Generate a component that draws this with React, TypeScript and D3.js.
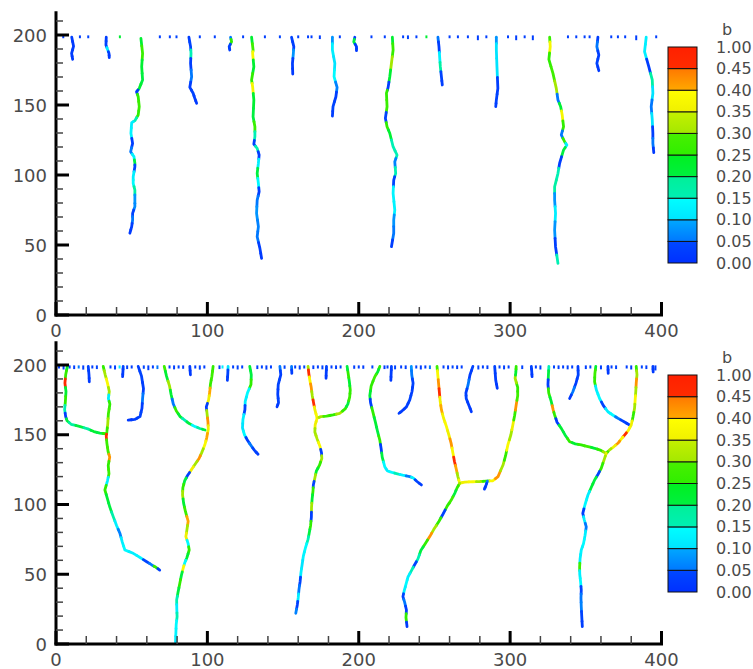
import React from 'react';
import * as d3 from 'd3';

type P = [number, number, number]; // [x, y, b]

// ---------- axis / legend data ----------
const xMajor = [0, 100, 200, 300, 400];
const xMinor = [20, 40, 60, 80, 120, 140, 160, 180, 220, 240, 260, 280, 320, 340, 360, 380];
const yMajor = [0, 50, 100, 150, 200];
const yMinor = [10, 20, 30, 40, 60, 70, 80, 90, 110, 120, 130, 140, 160, 170, 180, 190, 210];
const levelValues = [0, 0.05, 0.1, 0.15, 0.2, 0.25, 0.3, 0.35, 0.4, 0.45, 1.0];
const levelLabels = ['0.00', '0.05', '0.10', '0.15', '0.20', '0.25', '0.30', '0.35', '0.40', '0.45', '1.00'];
const bandColors: [string, string][] = [
  ['#0030ff', '#0048ff'],
  ['#0078ff', '#00a8ff'],
  ['#00e4ff', '#00ffff'],
  ['#00f0b4', '#00f098'],
  ['#00f040', '#00f020'],
  ['#30ee00', '#48f000'],
  ['#a4e800', '#c4f000'],
  ['#f0f000', '#ffff00'],
  ['#ffa800', '#ff7800'],
  ['#ff2c00', '#ff2000'],
];

// ---------- top panel: surface dots [x, depth, b] ----------
const topDots: P[] = [
  [4.8, 0.6, 0.03], [15.8, 0.6, 0.03], [21.3, 0.6, 0.04], [42.2, 0.6, 0.22], [68.6, 0.6, 0.03],
  [75.2, 0.6, 0.03], [79.6, 0.6, 0.04], [95, 0.6, 0.03], [104.9, 0.6, 0.03], [123.6, 0.6, 0.03],
  [138, 0.6, 0.03], [147.9, 0.6, 0.04], [160, 0.6, 0.03], [166.5, 0.6, 0.03], [168.8, 0.6, 0.03],
  [174.3, 1.2, 0.03], [187.5, 0.6, 0.03], [208.4, 0.6, 0.03], [217.2, 0.6, 0.03], [229.3, 0.6, 0.03],
  [232.5, 1.2, 0.04], [238.1, 0.6, 0.03], [244.7, 0.6, 0.22], [260, 0.6, 0.03], [265.5, 0.6, 0.03],
  [272.1, 0.6, 0.03], [278.7, 2.0, 0.03], [284.3, 0.6, 0.03], [298.6, 0.6, 0.03], [304, 2.0, 0.03],
  [309.6, 0.6, 0.03], [315, 2.0, 0.03], [338.2, 0.6, 0.03], [343.7, 0.6, 0.03], [349.2, 0.6, 0.03],
  [352.5, 0.6, 0.03], [366.8, 0.6, 0.03], [371.2, 0.6, 0.03], [376, 0.6, 0.03], [383.3, 2.0, 0.03],
  [396.5, 0.6, 0.03],
];

// ---------- top panel cracks ----------
const t1: P[] = [[10.4, 198.4, 0.03], [11.6, 192, 0.02], [10.3, 186.9, 0.03], [11, 182.6, 0.02]];
const t2: P[] = [[33.2, 198.4, 0.03], [33, 192.9, 0.04], [34.2, 189.3, 0.12], [35, 186.9, 0.03], [35.2, 183.8, 0.02]];
const t3: P[] = [
  [56.1, 197.6, 0.22], [57.2, 186.9, 0.27], [56.6, 177.4, 0.22], [57.2, 167.9, 0.2], [55, 161.9, 0.22],
  [53.2, 159.5, 0.02], [54.3, 155.9, 0.25], [55, 148.8, 0.27], [54.3, 142.9, 0.25], [52.1, 138.8, 0.15],
  [50, 137.4, 0.12], [49.5, 129.8, 0.13], [50.6, 122.6, 0.03], [49.3, 116.6, 0.05], [51.5, 113.1, 0.13],
  [52.1, 108.4, 0.2], [52.1, 105.9, 0.04], [51, 98.8, 0.12], [51, 94, 0.14], [52.1, 89.3, 0.18],
  [52.1, 82.1, 0.08], [52.1, 77.4, 0.07], [50.6, 72.6, 0.04], [50.6, 67.9, 0.05], [50, 63.1, 0.03],
  [48.8, 58.4, 0.02],
];
const t4: P[] = [
  [87.8, 198.4, 0.03], [88.9, 191.7, 0.04], [89.2, 186.9, 0.15], [88.9, 179.8, 0.03], [89.6, 170.2, 0.05],
  [88.4, 162.6, 0.03], [90.6, 158.4, 0.04], [91.7, 154.8, 0.03], [92.9, 151.2, 0.02],
];
const t5: P[] = [[115.3, 198.4, 0.05], [116, 195.2, 0.25], [114.4, 191.7, 0.04], [114.8, 189.3, 0.03]];
const t6: P[] = [
  [129.2, 198.4, 0.22], [130.2, 189.3, 0.28], [129.9, 186.9, 0.38], [130.7, 177.4, 0.22], [129.2, 167.9, 0.25],
  [129.9, 163.1, 0.37], [130.7, 153.6, 0.22], [130.2, 141.6, 0.2], [131.4, 134.5, 0.27], [131.4, 127.4, 0.15],
  [130.7, 122.1, 0.03], [132.9, 119, 0.15], [134.2, 114.3, 0.03], [133.7, 108.4, 0.12], [132.9, 101.2, 0.2],
  [133.7, 94, 0.14], [134.2, 88.1, 0.03], [132.9, 82.1, 0.05], [132.5, 72.6, 0.08], [133.7, 63.1, 0.06],
  [132.9, 55.9, 0.05], [134.7, 47.6, 0.03], [135.8, 40.5, 0.02],
];
const t7: P[] = [[155.6, 198.4, 0.04], [157.1, 191.7, 0.03], [156.8, 186.9, 0.08], [156.2, 179.8, 0.03], [156.4, 172.1, 0.02]];
const t8: P[] = [
  [182.6, 198.4, 0.08], [182.6, 189.3, 0.12], [184.2, 179.8, 0.1], [183.7, 170.2, 0.14], [185.7, 162.6, 0.06],
  [184.9, 155.9, 0.03], [183, 148.8, 0.04], [182.6, 142.1, 0.03],
];
const t9: P[] = [[197.4, 198.4, 0.03], [196.7, 195.2, 0.2], [198.5, 191.7, 0.02], [198.5, 188.8, 0.02]];
const t10: P[] = [
  [222.2, 198.4, 0.22], [222.7, 189.3, 0.26], [221.6, 179.8, 0.3], [220.5, 170.2, 0.22], [219.4, 162.6, 0.03],
  [218.3, 158.4, 0.25], [218.7, 148.8, 0.27], [217.6, 140.5, 0.04], [218.7, 134.5, 0.25], [220.5, 129.8, 0.22],
  [222.7, 120.2, 0.15], [225.3, 114.3, 0.15], [223.8, 109.5, 0.06], [224.4, 101.2, 0.15], [223.1, 96.4, 0.04],
  [222.7, 86.9, 0.13], [223.8, 75, 0.13], [223.1, 67.9, 0.08], [223.1, 58.4, 0.05], [221.6, 48.8, 0.03],
];
const t11: P[] = [
  [252.3, 198.4, 0.05], [253, 191.7, 0.03], [253.5, 183.4, 0.12], [253.9, 177.4, 0.18], [254.6, 170.2, 0.04],
  [255.2, 164.3, 0.03],
];
const t12: P[] = [
  [290.9, 198.4, 0.08], [290.9, 189.3, 0.1], [291.3, 177.4, 0.1], [291.9, 161.9, 0.03], [290.9, 153.6, 0.04],
  [290.5, 148.8, 0.03],
];
const t13: P[] = [
  [326.1, 198.4, 0.27], [326.5, 191.7, 0.37], [325.6, 182.6, 0.25], [328.3, 172.6, 0.28], [330.5, 161.9, 0.3],
  [331.6, 153.6, 0.05], [333.4, 148.8, 0.22], [334.4, 142.9, 0.37], [335.3, 134.5, 0.25], [333.8, 128.6, 0.05],
  [336, 123.8, 0.25], [337.5, 121.4, 0.12], [335.3, 117.9, 0.2], [332.7, 108.4, 0.03], [331.6, 101.2, 0.15],
  [329.4, 91.6, 0.18], [329.4, 82.1, 0.08], [330, 72.6, 0.12], [329.4, 60.7, 0.08], [330, 48.8, 0.03],
  [331.6, 36.9, 0.15],
];
const t14: P[] = [[358, 198.4, 0.03], [357.3, 191.7, 0.05], [358.6, 185.7, 0.03], [357.3, 179.8, 0.04], [358.6, 174.5, 0.02]];
const t15: P[] = [
  [389.9, 198.4, 0.12], [388.8, 188.1, 0.12], [391.6, 177.4, 0.03], [393.9, 167.9, 0.18], [394.3, 158.4, 0.1],
  [393.2, 148.8, 0.05], [393.9, 139.3, 0.1], [394.3, 129.8, 0.03], [394.3, 122.6, 0.05], [394.9, 116, 0.02],
];
const topCracks = [t1, t2, t3, t4, t5, t6, t7, t8, t9, t10, t11, t12, t13, t14, t15];

// ---------- bottom panel: surface dots [x, depth, b] ----------
const botDots: P[] = [
  [2, 0.8, 0.03], [5, 1.5, 0.04], [9, 0.8, 0.03], [12, 1.2, 0.03], [15, 0.8, 0.05], [18, 1.6, 0.03],
  [24, 0.8, 0.03], [27, 1.2, 0.04], [36, 0.8, 0.03], [39, 1.5, 0.03], [42, 0.8, 0.12], [47, 1.2, 0.03],
  [50, 0.8, 0.03], [58, 1.0, 0.04], [61, 2.0, 0.03], [64, 0.8, 0.03], [67, 1.2, 0.05], [75, 0.8, 0.03],
  [78, 1.4, 0.03], [81, 0.8, 0.04], [84, 1.0, 0.03], [92, 0.8, 0.03], [95, 1.6, 0.04], [98, 0.8, 0.03],
  [108, 1.2, 0.03], [110, 0.8, 0.12], [117, 0.8, 0.03], [120, 1.5, 0.04], [123, 0.8, 0.03], [133, 1.2, 0.03],
  [136, 0.8, 0.04], [139, 1.6, 0.03], [142, 0.8, 0.03], [151, 1.0, 0.04], [158, 0.8, 0.03], [161, 1.5, 0.03],
  [164, 0.8, 0.04], [170, 1.2, 0.03], [173, 0.8, 0.03], [176, 1.4, 0.04], [182, 0.8, 0.03], [185, 1.2, 0.03],
  [188, 0.8, 0.04], [197, 1.0, 0.03], [200, 0.8, 0.03], [203, 1.0, 0.03], [209, 0.8, 0.04], [217, 1.2, 0.03],
  [219, 0.8, 0.03], [224, 1.4, 0.04], [228, 0.8, 0.03], [231, 1.2, 0.03], [238, 0.8, 0.04], [241, 1.5, 0.03],
  [244, 0.8, 0.03], [247, 1.2, 0.05], [256, 0.8, 0.03], [259, 1.4, 0.03], [262, 0.8, 0.04], [265, 1.2, 0.03],
  [268, 0.8, 0.03], [279, 1.5, 0.04], [282, 0.8, 0.03], [285, 1.2, 0.03], [293, 0.8, 0.04], [296, 1.4, 0.03],
  [299, 0.8, 0.03], [308, 1.2, 0.04], [317, 0.8, 0.03], [320, 1.5, 0.03], [329, 0.8, 0.04], [332, 1.2, 0.03],
  [335, 0.8, 0.03], [338, 1.4, 0.04], [341, 0.8, 0.03], [350, 1.2, 0.03], [353, 0.8, 0.04], [360, 1.4, 0.03],
  [367, 0.8, 0.03], [370, 1.2, 0.04], [377, 0.8, 0.03], [380, 1.5, 0.03], [387, 0.8, 0.04], [390, 1.2, 0.03],
  [396, 2.2, 0.03],
];

// ---------- bottom panel cracks ----------
const b1: P[] = [
  [7.5, 199, 0.22], [6.4, 193, 0.26], [5.9, 187, 0.46], [6.6, 181, 0.22], [6.2, 174, 0.25], [5.7, 168, 0.15],
  [6.4, 163, 0.03], [7.3, 160, 0.2], [10, 157.5, 0.18], [16, 155.8, 0.2], [21, 154.2, 0.18], [25, 152.3, 0.22],
  [29, 151.2, 0.2], [33.5, 150.6, 0.25],
];
const b2: P[] = [
  [31.2, 199, 0.25], [32.5, 193, 0.3], [34, 187, 0.38], [35.2, 181, 0.3], [34.6, 176, 0.12], [35.6, 172, 0.25],
  [34.6, 165, 0.28], [34.2, 158, 0.3], [33.6, 152, 0.25], [33.2, 149, 0.46], [33.6, 144, 0.27], [34.4, 138, 0.28],
  [35.5, 134, 0.42], [34.5, 128, 0.25], [35, 122, 0.27], [34, 117, 0.12], [32.3, 110.4, 0.25], [34, 104, 0.22],
  [35.6, 98, 0.2], [37.8, 91.3, 0.17], [40, 85, 0.12], [42.2, 79.4, 0.06], [43.8, 73, 0.12], [45.5, 67.4, 0.14],
  [51, 65, 0.12], [55.5, 62, 0.13], [59.9, 59, 0.04], [63.5, 56.5, 0.05], [66, 55, 0.25], [68.5, 53, 0.03],
];
const b3: P[] = [
  [54.3, 199, 0.03], [56.5, 192, 0.04], [57.8, 183, 0.03], [57.2, 176, 0.05], [56.8, 169, 0.03], [55.5, 163, 0.04],
  [52, 161, 0.03], [47.7, 160.5, 0.02],
];
const b4: P[] = [
  [71.5, 199, 0.28], [73, 192, 0.22], [75, 185, 0.3], [76, 179, 0.22], [77.5, 172, 0.05], [79.5, 167, 0.25],
  [82, 163, 0.22], [85, 160.5, 0.15], [88, 158, 0.2], [92, 155.8, 0.14], [95, 154.5, 0.18], [98.5, 153.4, 0.2],
];
const b5: P[] = [
  [103.8, 199, 0.25], [103, 192, 0.28], [102, 186, 0.26], [101.6, 181, 0.4], [100.8, 175, 0.35], [99.3, 170, 0.03],
  [99.8, 165, 0.3], [100.4, 159, 0.42], [100.6, 154, 0.35], [99.6, 148, 0.4], [98.4, 143, 0.38], [96.2, 137, 0.3],
  [94.5, 133, 0.42], [92, 129, 0.3], [89.5, 125, 0.35], [87, 121, 0.03], [85, 117, 0.2], [83.8, 112, 0.25],
  [83.6, 107, 0.3], [84.3, 101, 0.22], [85.5, 95, 0.27], [87.3, 88, 0.4], [86.5, 82, 0.3], [85.8, 77, 0.35],
  [87.3, 72, 0.14], [88, 67.4, 0.25], [86.5, 62, 0.22], [85, 58, 0.14], [84, 54.3, 0.38], [82.8, 49, 0.2],
  [81.8, 43.5, 0.25], [80.6, 37, 0.2], [79.7, 31.5, 0.15], [79.8, 25, 0.12], [80, 19.6, 0.15], [79.4, 14, 0.14],
  [79.2, 8, 0.13], [79, 3, 0.12], [79.2, 0.5, 0.1],
];
const b6: P[] = [
  [128, 199, 0.22], [129, 193, 0.2], [128.8, 186, 0.25], [126.5, 180, 0.14], [125, 174, 0.12], [124.8, 168, 0.04],
  [123.5, 161, 0.12], [123.2, 155, 0.1], [124.5, 150, 0.14], [126.5, 146, 0.03], [129, 142, 0.05], [131, 139, 0.04],
  [133.5, 136, 0.03],
];
const b7: P[] = [[147.9, 199, 0.05], [148.5, 193, 0.03], [146.8, 186, 0.04], [146.5, 179, 0.03], [147, 173, 0.04], [146, 170, 0.02]];
const b8: P[] = [
  [166.5, 199, 0.3], [167, 194, 0.46], [167.7, 189, 0.38], [168.6, 184, 0.42], [169.3, 178, 0.3], [170.3, 172, 0.46],
  [171, 168, 0.35], [172.5, 162, 0.38], [171.2, 157, 0.35], [171, 152, 0.3], [172.5, 147, 0.32], [174.3, 142, 0.38],
  [175.4, 137, 0.03], [175.6, 133, 0.3], [174, 128, 0.25], [172, 124, 0.22], [171, 119, 0.3], [170, 114, 0.04],
  [169.8, 110, 0.25], [169.2, 104, 0.22], [168.8, 98, 0.3], [168.7, 91, 0.03], [168.2, 85, 0.25], [167.2, 79, 0.2],
  [166.5, 75, 0.15], [164.8, 69, 0.14], [163.4, 63, 0.13], [162.6, 57, 0.1], [161.8, 51, 0.12], [161.3, 45, 0.04],
  [160.5, 39, 0.05], [160, 33, 0.12], [159.4, 28, 0.03], [158.4, 22, 0.06],
];
const b9: P[] = [
  [172.5, 162, 0.35], [175, 163, 0.3], [178.7, 163.4, 0.28], [183, 164.2, 0.25], [187.5, 165.4, 0.3], [191, 168.5, 0.25],
  [192.8, 172, 0.2], [194, 177, 0.27], [194.4, 182, 0.25], [193.8, 188, 0.22], [193, 194, 0.25], [192.3, 199, 0.2],
];
const b10: P[] = [
  [213.9, 199, 0.25], [212.5, 195, 0.22], [210.6, 191.6, 0.28], [208.2, 185, 0.25], [207.3, 178, 0.22], [207.8, 173, 0.03],
  [209.4, 166, 0.25], [211, 159, 0.22], [212.5, 152, 0.2], [213.9, 146.2, 0.25], [214.8, 140, 0.03], [215.5, 134, 0.2],
  [217.2, 127, 0.14], [219, 124, 0.12], [222, 123, 0.14], [225.5, 122, 0.15], [229, 121, 0.12], [233.7, 120, 0.05],
  [236, 119, 0.13], [238.5, 116.5, 0.04], [241.4, 114, 0.03],
];
const b11: P[] = [
  [234.7, 199, 0.08], [235, 193, 0.05], [235.9, 187, 0.04], [235.2, 181, 0.03], [233.7, 175, 0.04], [231.5, 170, 0.03],
  [228.5, 167, 0.02], [226.6, 165.4, 0.03],
];
const b12: P[] = [
  [251.7, 199, 0.28], [252.2, 193, 0.38], [252.8, 186, 0.42], [253.3, 180, 0.46], [253.8, 174, 0.35], [254.6, 168, 0.4],
  [256, 162, 0.36], [257.9, 156, 0.38], [259.5, 150, 0.35], [261, 144, 0.42], [262.2, 137, 0.38], [263.2, 131, 0.46],
  [264.5, 125, 0.4], [265.5, 120, 0.3], [266.7, 115.2, 0.38],
];
const b13: P[] = [
  [266.7, 115.2, 0.36], [270, 116, 0.35], [275.4, 116.3, 0.38], [280, 116.5, 0.3], [284, 116.8, 0.25], [288.6, 117, 0.38],
  [292, 120, 0.42], [295.3, 128.3, 0.3], [297, 135, 0.25], [298.5, 142.7, 0.38], [300.5, 150, 0.3], [301.8, 157, 0.35],
  [303, 164, 0.25], [304, 171.3, 0.42], [305, 178, 0.28], [305, 184, 0.25], [303.3, 190.5, 0.3], [303.8, 195, 0.22],
  [304, 199, 0.25],
];
const b13s: P[] = [[285, 116.8, 0.05], [284, 113.5, 0.03], [283, 111, 0.02]];
const b14: P[] = [
  [266.7, 115.2, 0.3], [265, 112, 0.25], [263.4, 108, 0.2], [261, 103, 0.28], [258.5, 99, 0.25], [255.6, 93, 0.04],
  [253, 88, 0.25], [249.5, 82, 0.3], [246.9, 77, 0.42], [244, 72, 0.25], [241, 67, 0.2], [239.1, 61, 0.15],
  [237, 57, 0.04], [235, 53, 0.15], [232.5, 48, 0.12], [231.5, 44, 0.14], [230, 38, 0.12], [229.2, 34, 0.04],
  [230.3, 30, 0.05], [231.5, 24.4, 0.03], [231.2, 19, 0.25], [231.9, 12.4, 0.02],
];
const b15: P[] = [
  [275.4, 199, 0.04], [273.5, 193, 0.03], [272.2, 185.7, 0.05], [270.8, 180, 0.03], [271, 176, 0.04], [272.8, 171, 0.03],
  [274.4, 166.5, 0.02],
];
const b16: P[] = [[289.8, 199, 0.04], [290.5, 189, 0.03], [291.5, 183.3, 0.02]];
const b17: P[] = [
  [325.6, 199, 0.15], [325.3, 193, 0.2], [325, 186, 0.03], [325.5, 180, 0.25], [327.2, 173.7, 0.22], [328.4, 168, 0.42],
  [329.4, 164.2, 0.25], [331, 159, 0.03], [333.8, 154.6, 0.22], [336.5, 149.5, 0.2], [339.3, 145, 0.25], [343, 143.5, 0.22],
  [347, 142.7, 0.25], [351.5, 141.5, 0.28], [355.8, 140.3, 0.22], [359.5, 139, 0.25], [363.5, 136.7, 0.3],
];
const b18: P[] = [[344.8, 199, 0.03], [345, 193, 0.04], [343.5, 187, 0.03], [341.5, 181, 0.05], [339.3, 176, 0.02]];
const b19: P[] = [
  [356.6, 199, 0.22], [356, 194, 0.28], [355.8, 188, 0.25], [357, 182, 0.12], [359.1, 176, 0.14], [361.5, 171, 0.04],
  [364.6, 166.5, 0.12], [368, 164, 0.14], [371.2, 161.8, 0.05], [375, 159.5, 0.04], [378.9, 157, 0.03],
];
const b20: P[] = [
  [383.3, 199, 0.25], [383.8, 193, 0.3], [383.3, 187, 0.42], [383, 181, 0.3], [382.6, 175, 0.38], [382.2, 169, 0.3],
  [381.2, 163, 0.25], [380, 157, 0.35], [378, 153, 0.38], [375.6, 149.8, 0.46], [373.5, 147, 0.38], [371.2, 143.9, 0.42],
  [368, 141, 0.35], [365.5, 139, 0.3], [363.5, 136.7, 0.28],
];
const b21: P[] = [
  [363.5, 136.7, 0.35], [362.4, 133.1, 0.3], [360.2, 126, 0.25], [358, 121.5, 0.04], [355.8, 117.6, 0.2], [353.5, 112, 0.22],
  [351.4, 106.8, 0.12], [349.5, 100, 0.14], [348, 93.7, 0.03], [349, 89, 0.12], [350.3, 84, 0.05], [349.5, 78, 0.12],
  [348.5, 72, 0.14], [347, 67.4, 0.13], [346.2, 61, 0.12], [345.9, 55, 0.28], [346, 50, 0.12], [346.6, 44, 0.14],
  [347, 38.7, 0.04], [346.8, 33, 0.05], [347, 26.7, 0.06], [347.3, 20, 0.04], [347.7, 12.4, 0.03],
];
const bs1: P[] = [[21.3, 199, 0.04], [21.8, 193, 0.03], [22, 188, 0.02]];
const bs2: P[] = [[44.4, 199, 0.04], [44.2, 195, 0.03], [44, 191.6, 0.02]];
const bs3: P[] = [[88.4, 199, 0.03], [88.8, 193, 0.02]];
const bs4: P[] = [[113.7, 199, 0.1], [113.5, 194, 0.04], [113.2, 189, 0.03]];
const bs5: P[] = [[155.6, 199, 0.05], [155.8, 194, 0.03]];
const bs6: P[] = [[178.7, 199, 0.04], [178.5, 194, 0.03], [178.4, 190.5, 0.02]];
const bs7: P[] = [[221.6, 199, 0.04], [221.4, 194, 0.03], [221.2, 189, 0.02]];
const bs8: P[] = [[314, 199, 0.04], [314.3, 195, 0.03], [314.5, 191.6, 0.02]];
const bs9: P[] = [[364.6, 199, 0.03], [364.8, 194, 0.02]];
const bs10: P[] = [[394.3, 199, 0.03], [394.5, 195, 0.02]];
const botCracks = [
  b1, b2, b3, b4, b5, b6, b7, b8, b9, b10, b11, b12, b13, b13s, b14, b15, b16, b17, b18, b19, b20, b21,
  bs1, bs2, bs3, bs4, bs5, bs6, bs7, bs8, bs9, bs10,
];

// ---------- helpers ----------
function colorOf(b: number): string {
  let i = d3.bisectRight(levelValues, b) - 1;
  i = Math.max(0, Math.min(9, i));
  const lo = levelValues[i];
  const hi = levelValues[i + 1];
  const f = Math.max(0, Math.min(1, (b - lo) / (hi - lo)));
  return d3.interpolateRgb(bandColors[i][0], bandColors[i][1])(f);
}

const FONT = '"DejaVu Sans", "Liberation Sans", Arial, sans-serif';
const TEXT = '#4a4a4a';

interface PanelProps {
  yBase: number;
  yTop200: number;
  cracks: P[][];
  dots: P[];
  cbTop: number;
  cbBottom: number;
  bY: number;
}

function Panel({ yBase, yTop200, cracks, dots, cbTop, cbBottom, bY }: PanelProps) {
  const x = d3.scaleLinear().domain([0, 400]).range([56, 661.5]);
  const y = d3.scaleLinear().domain([0, 200]).range([yBase, yTop200]);
  const line = d3.line<[number, number]>();
  const lvl = d3.scaleLinear().domain([0, 10]).range([cbBottom, cbTop]);
  const cbX = 668;
  const cbW = 29;

  const pieces: JSX.Element[] = [];
  cracks.forEach((pts, ci) => {
    pts.forEach((p, i) => {
      const prev = i > 0 ? pts[i - 1] : p;
      const next = i < pts.length - 1 ? pts[i + 1] : p;
      const a: [number, number] = [x((prev[0] + p[0]) / 2), y((prev[1] + p[1]) / 2)];
      const m: [number, number] = [x(p[0]), y(p[1])];
      const c: [number, number] = [x((next[0] + p[0]) / 2), y((next[1] + p[1]) / 2)];
      pieces.push(
        <path key={`c${ci}-${i}`} d={line([a, m, c]) || ''} stroke={colorOf(p[2])} strokeWidth={2.8}
          fill="none" strokeLinecap="round" strokeLinejoin="round" />
      );
    });
  });

  return (
    <g>
      {dots.map((d, i) => (
        <line key={`d${i}`} x1={x(d[0])} x2={x(d[0])} y1={y(199) - 1} y2={y(199 - d[1]) + 1}
          stroke={colorOf(d[2])} strokeWidth={2} />
      ))}
      {pieces}
      <line x1={x(0)} x2={x(0)} y1={y(0) + 1.5} y2={y(217)} stroke="#000" strokeWidth={3} />
      <line x1={x(0) - 1.5} x2={x(400) + 1.5} y1={y(0)} y2={y(0)} stroke="#000" strokeWidth={3} />
      {yMajor.map((v) => (
        <line key={`ym${v}`} x1={x(0)} x2={x(0) + 13} y1={y(v)} y2={y(v)} stroke="#000" strokeWidth={3} />
      ))}
      {yMinor.map((v) => (
        <line key={`yn${v}`} x1={x(0)} x2={x(0) + 7} y1={y(v)} y2={y(v)} stroke="#444" strokeWidth={1.5} />
      ))}
      {xMajor.map((v) => (
        <line key={`xm${v}`} x1={x(v)} x2={x(v)} y1={y(0)} y2={y(0) - 13} stroke="#000" strokeWidth={3} />
      ))}
      {xMinor.map((v) => (
        <line key={`xn${v}`} x1={x(v)} x2={x(v)} y1={y(0)} y2={y(0) - 8} stroke="#444" strokeWidth={1.5} />
      ))}
      {yMajor.map((v) => (
        <text key={`yl${v}`} x={47} y={y(v)} textAnchor="end" dominantBaseline="central"
          fontFamily={FONT} fontSize={18} fill={TEXT}>{v}</text>
      ))}
      {xMajor.map((v) => (
        <text key={`xl${v}`} x={x(v)} y={y(0) + 15} textAnchor="middle" dominantBaseline="central"
          fontFamily={FONT} fontSize={18} fill={TEXT}>{v}</text>
      ))}
      <defs>
        {bandColors.map((bc, i) => (
          <linearGradient key={`g${i}`} id={`g${yBase}-${i}`} x1="0" y1="1" x2="0" y2="0">
            <stop offset="0" stopColor={bc[0]} />
            <stop offset="1" stopColor={bc[1]} />
          </linearGradient>
        ))}
      </defs>
      {bandColors.map((bc, i) => (
        <rect key={`b${i}`} x={cbX} y={lvl(i + 1)} width={cbW} height={lvl(i) - lvl(i + 1)}
          fill={`url(#g${yBase}-${i})`} stroke="#111" strokeWidth={1} />
      ))}
      {levelLabels.map((t, i) => (
        <text key={`ll${i}`} x={716} y={lvl(i)} dominantBaseline="central" fontFamily={FONT}
          fontSize={16} fill={TEXT}>{t}</text>
      ))}
      <text x={727} y={bY} textAnchor="middle" dominantBaseline="central" fontFamily={FONT}
        fontSize={16} fill={TEXT}>b</text>
    </g>
  );
}

export default function App() {
  return (
    <svg width={753} height={669} style={{ position: 'absolute', left: 0, top: 0, background: '#fff' }}>
      <rect x={0} y={0} width={753} height={669} fill="#fff" />
      <Panel yBase={315} yTop200={35} cracks={topCracks} dots={topDots} cbTop={47} cbBottom={263} bY={29} />
      <Panel yBase={644} yTop200={365} cracks={botCracks} dots={botDots} cbTop={375} cbBottom={592} bY={357} />
    </svg>
  );
}
